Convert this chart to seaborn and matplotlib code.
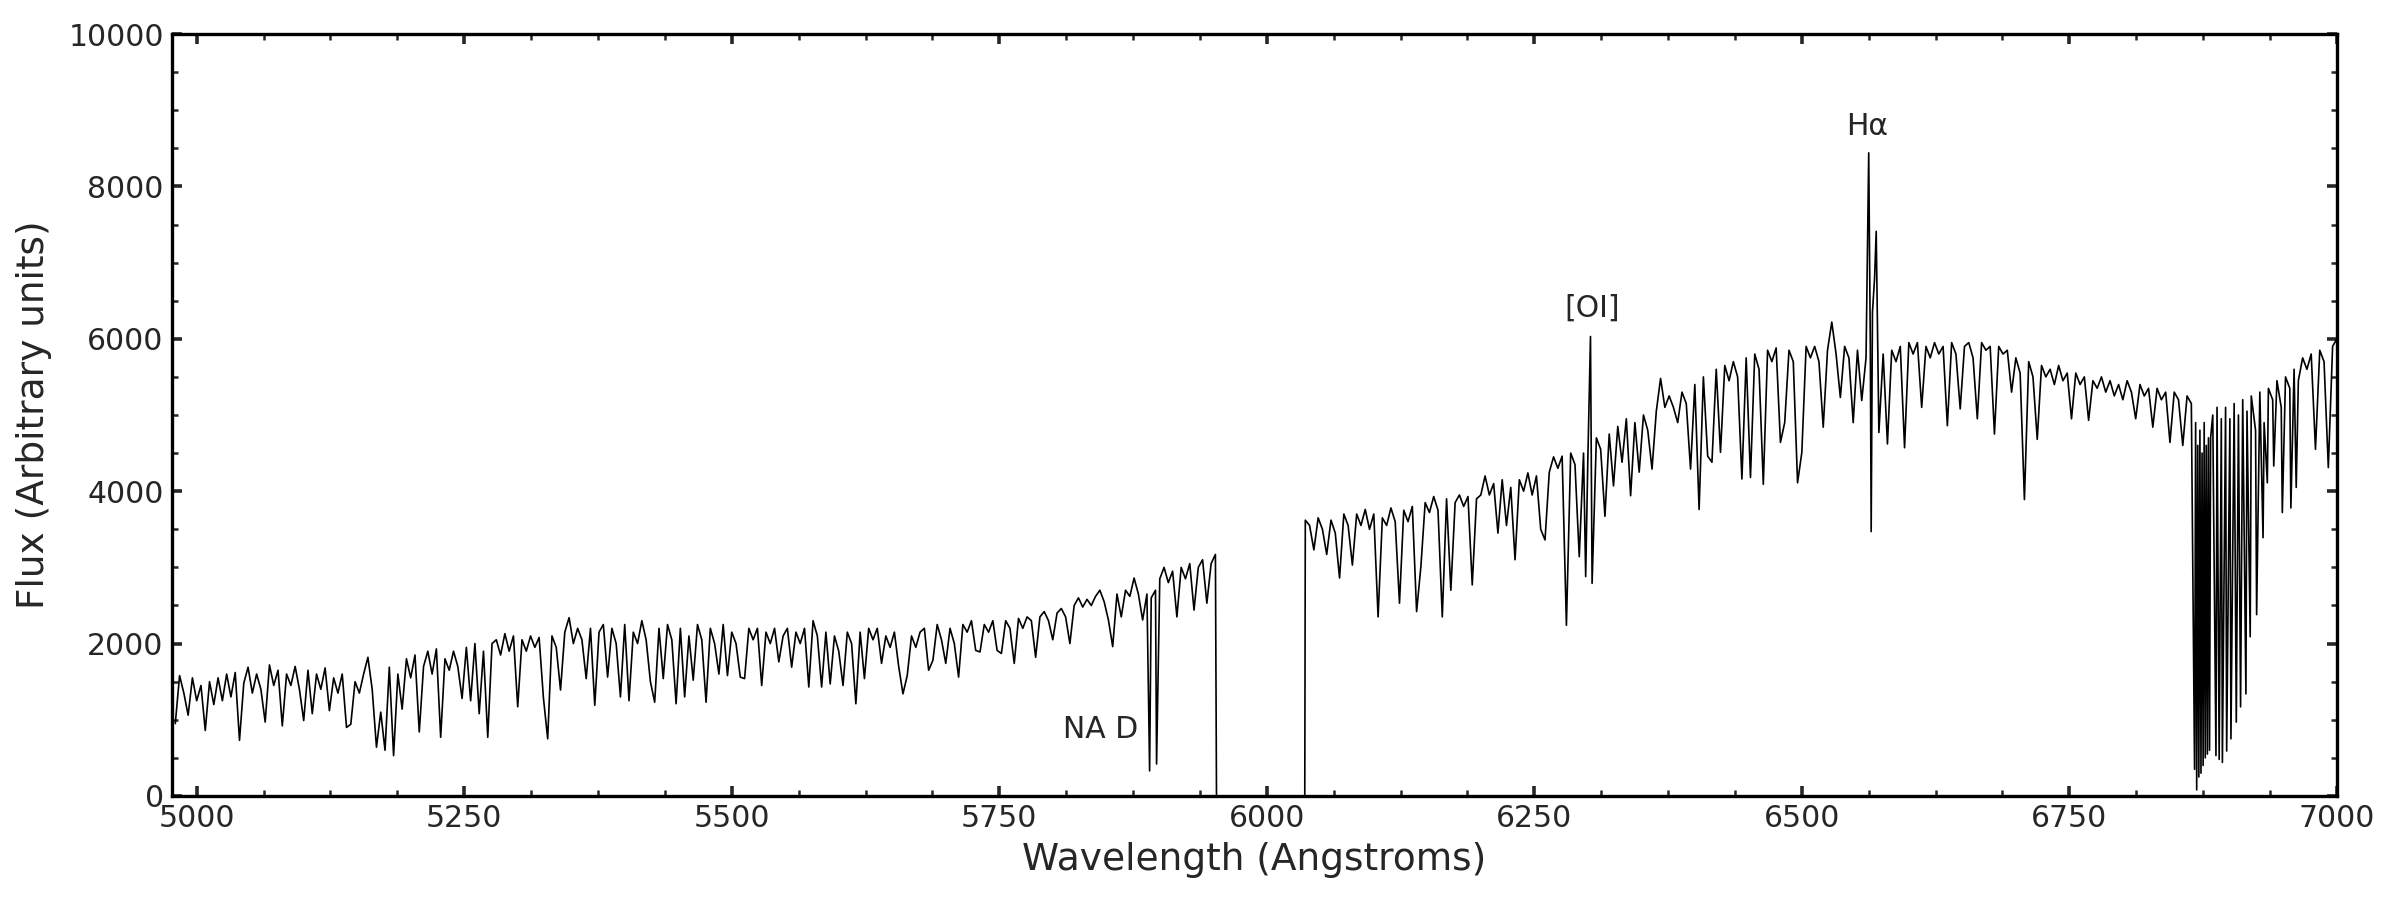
import numpy as np
import pandas as pd
import matplotlib
matplotlib.use("Agg")
import matplotlib.pyplot as plt
from matplotlib.ticker import MultipleLocator, AutoMinorLocator
import seaborn as sns

# ---- spectrum values (4 A sampling, 100 A per block) ----
grid_start = 4980
grid_step = 4
flux_4980 = [950, 1580, 1350, 1060, 1550, 1250, 1450, 860, 1500, 1200, 1550, 1250, 1600,
             1300, 1620, 730, 1480, 1690, 1350, 1600, 1400, 970, 1720, 1450, 1650]
flux_5080 = [920, 1600, 1450, 1700, 1400, 990, 1650, 1080, 1600, 1400, 1680, 1120, 1550,
             1350, 1600, 900, 940, 1500, 1350, 1600, 1820, 1400, 640, 1100, 600]
flux_5180 = [1690, 530, 1600, 1140, 1800, 1550, 1850, 840, 1700, 1900, 1600, 1930, 770,
             1800, 1650, 1900, 1700, 1280, 1950, 1250, 2000, 1080, 1900, 770, 2000]
flux_5280 = [2050, 1850, 2130, 1900, 2100, 1170, 2050, 1900, 2100, 1950, 2080, 1290, 750,
             2100, 1950, 1390, 2150, 2340, 2000, 2200, 2050, 1540, 2200, 1190, 2150]
flux_5380 = [2250, 1560, 2200, 2000, 1300, 2250, 1250, 2150, 2000, 2300, 2050, 1500, 1230,
             2200, 1540, 2250, 2050, 1210, 2200, 1300, 2100, 1520, 2250, 2050, 1230]
flux_5480 = [2200, 2000, 1600, 2250, 1580, 2150, 2000, 1560, 1540, 2200, 2050, 2200, 1450,
             2150, 2000, 2200, 1760, 2100, 2200, 1690, 2150, 2000, 2200, 1430, 2300]
flux_5580 = [2100, 1430, 2150, 1470, 2100, 1900, 1450, 2150, 2000, 1210, 2150, 1540, 2200,
             2050, 2200, 1740, 2100, 1950, 2150, 1700, 1340, 1580, 2100, 1950, 2150]
flux_5680 = [2200, 1650, 1780, 2250, 2050, 1740, 2200, 2000, 1560, 2250, 2150, 2300, 1910,
             1890, 2250, 2150, 2300, 1910, 1870, 2300, 2200, 1740, 2330, 2200, 2350]
flux_5780 = [2300, 1820, 2350, 2420, 2300, 2050, 2400, 2460, 2350, 2000, 2500, 2600, 2480,
             2580, 2500, 2620, 2700, 2550, 2310, 1960, 2650, 2350, 2700, 2620, 2860]
flux_5880 = [2650, 2310, 2650, 2600, 2700, 2850, 3000, 2800, 2950, 2350, 3000, 2850, 3050,
             2440, 3000, 3100, 2530, 3050, 3170, 0, 0, 0, 0, 0, 0]
flux_5980 = [0, 0, 0, 0, 0, 0, 0, 0, 0, 0, 0, 0, 0,
             0, 3620, 3550, 3230, 3650, 3500, 3170, 3620, 3450, 2860, 3700, 3550]
flux_6080 = [3030, 3700, 3550, 3760, 3500, 3700, 2350, 3650, 3550, 3780, 3600, 2530, 3750,
             3600, 3800, 2420, 3010, 3850, 3720, 3930, 3750, 2350, 3900, 2700, 3850]
flux_6180 = [3950, 3800, 3930, 2770, 3900, 3950, 4200, 3950, 4100, 3450, 4150, 3550, 4050,
             3100, 4150, 4000, 4240, 3950, 4200, 3500, 3360, 4250, 4450, 4300, 4460]
flux_6280 = [2240, 4500, 4350, 3140, 4500, 4400, 2790, 4700, 4550, 3670, 4750, 4070, 4850,
             4380, 4950, 3940, 4900, 4250, 5000, 4800, 4290, 5050, 5480, 5100, 5250]
flux_6380 = [5100, 4900, 5300, 5150, 4290, 5400, 3760, 5500, 4460, 4380, 5600, 4510, 5650,
             5450, 5700, 5500, 4160, 5750, 4180, 5800, 5600, 4090, 5850, 5700, 5880]
flux_6480 = [4640, 4900, 5850, 5700, 4110, 4510, 5900, 5750, 5900, 5700, 4840, 5850, 6220,
             5800, 5230, 5900, 5750, 4900, 5850, 5190, 5750, 5900, 6800, 4770, 5800]
flux_6580 = [4620, 5850, 5700, 5900, 4570, 5950, 5800, 5950, 5100, 5900, 5750, 5950, 5800,
             5900, 4860, 5950, 5800, 5080, 5900, 5950, 5750, 4950, 5950, 5850, 5900]
flux_6680 = [4750, 5900, 5800, 5850, 5300, 5750, 5550, 3890, 5700, 5500, 4680, 5650, 5500,
             5600, 5400, 5650, 5450, 5550, 4950, 5550, 5400, 5500, 4930, 5450, 5350]
flux_6780 = [5500, 5300, 5450, 5250, 5400, 5200, 5450, 5300, 4950, 5400, 5250, 5350, 4840,
             5350, 5200, 5300, 4640, 5300, 5200, 4600, 5250, 5150, 4900, 4800, 4900]
flux_6880 = [4700, 5000, 5100, 4950, 5100, 4950, 5150, 5000, 5200, 5050, 5250, 4800, 5300,
             4900, 5350, 5200, 5450, 5100, 5500, 5350, 5600, 5450, 5750, 5600, 5800, 4550,
             5850, 5700, 4310, 5900, 6000]

# narrow features between the 4 A samples: Na D, gap edges, [OI], H-alpha, B band
line_wave = [5890.5, 5897, 5953, 6035.5, 6298, 6302.5, 6562.5, 6564.8, 6566, 6569.5,
             6867, 6869, 6870, 6871, 6873, 6874, 6875, 6877, 6878, 6879, 6881, 6882,
             6887, 6890, 6893, 6897, 6901, 6906, 6910, 6915, 6919, 6925, 6931, 6935,
             6941, 6949, 6957, 6962]
line_flux = [330, 420, 0, 0, 2880, 6030, 8440, 3470, 6350, 7410,
             350, 80, 4600, 250, 300, 4500, 400, 500, 4600, 550, 600, 4700,
             530, 480, 440, 590, 750, 970, 1170, 1340, 2090, 2380, 3390, 4110,
             4330, 3720, 3780, 4050]

# annotations
label_text = ["NA D", "[OI]", "H\u03b1"]
label_wave = [5845, 6304, 6561]
label_flux = [870, 6400, 8790]

# ---- assemble ----
grid_flux = (flux_4980 + flux_5080 + flux_5180 + flux_5280 + flux_5380 + flux_5480 +
             flux_5580 + flux_5680 + flux_5780 + flux_5880 + flux_5980 + flux_6080 +
             flux_6180 + flux_6280 + flux_6380 + flux_6480 + flux_6580 + flux_6680 +
             flux_6780 + flux_6880)
grid_wave = grid_start + grid_step * np.arange(len(grid_flux))
df = pd.DataFrame({"wave": np.concatenate([grid_wave, line_wave]),
                   "flux": np.concatenate([grid_flux, line_flux])})
df = df.sort_values("wave", kind="stable").reset_index(drop=True)

sns.set_style("ticks")
plt.rcParams["font.family"] = ["DejaVu Sans"]

fig = plt.figure(figsize=(24, 9), dpi=100)
ax = fig.add_axes([0.0717, 0.1156, 0.902, 0.8466])
sns.lineplot(data=df, x="wave", y="flux", ax=ax, color="black", linewidth=1.2,
             estimator=None, sort=False)

ax.set_xlim(4977, 7000)
ax.set_ylim(0, 10000)
ax.xaxis.set_major_locator(MultipleLocator(250))
ax.xaxis.set_minor_locator(AutoMinorLocator(4))
ax.yaxis.set_major_locator(MultipleLocator(2000))
ax.yaxis.set_minor_locator(AutoMinorLocator(4))
ax.tick_params(which="both", direction="in", top=True, right=True, labelsize=21.5)
ax.tick_params(which="major", length=7, width=2.6, pad=6)
ax.tick_params(which="minor", length=4, width=1.8)
for sp in ax.spines.values():
    sp.set_linewidth(2.4)
    sp.set_color("black")

ax.set_xlabel("Wavelength (Angstroms)", fontsize=27, labelpad=6)
ax.set_ylabel("Flux (Arbitrary units)", fontsize=27, labelpad=12)

for t, w, f in zip(label_text, label_wave, label_flux):
    ax.text(w, f, t, fontsize=21.5, ha="center", va="center")

fig.savefig("out.png", dpi=100)
